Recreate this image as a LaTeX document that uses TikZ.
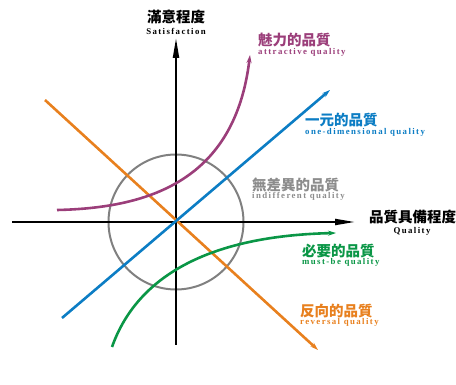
\documentclass[tikz,border=0pt]{standalone}
\usepackage{fontspec}
\setmainfont{Liberation Serif}
\newfontfamily\cjk{Noto Sans CJK TC}
\newfontfamily\en{Liberation Serif Bold}[LetterSpace=16]
\usetikzlibrary{arrows.meta}
\definecolor{cPurple}{RGB}{155,62,122}
\definecolor{cBlue}{RGB}{12,125,196}
\definecolor{cOrange}{RGB}{232,128,30}
\definecolor{cGreen}{RGB}{10,150,70}
\definecolor{cGray}{RGB}{128,128,128}
\definecolor{cGrayText}{RGB}{140,140,140}
\tikzset{
  axis/.style={line width=2pt,black,-{Triangle[length=20pt,width=6pt]}},
  curve/.style={line width=2.6pt,-{Stealth[length=8pt,width=5pt]}},
  zh/.style={font=\cjk\bfseries\fontsize{14.5}{15}\selectfont,inner sep=0pt,anchor=west},
  eng/.style={font=\en\fontsize{8.8}{9}\selectfont,inner sep=0pt,anchor=west},
}
\begin{document}
\begin{tikzpicture}[x=1pt,y=-1pt]
\useasboundingbox (0,0) rectangle (456,385);
% named points
\coordinate (O) at (176,222);
\coordinate (xs) at (12,222);
\coordinate (xe) at (355,222);
\coordinate (ys) at (176,345);
\coordinate (ye) at (176,38);
\coordinate (os) at (45,100);
\coordinate (oe) at (318,350);
\coordinate (bs) at (62,318);
\coordinate (be) at (330,90);
\coordinate (ps) at (57,210);
\coordinate (pe) at (250,55);
\coordinate (gs) at (112,347);
\coordinate (ge) at (336,233);
% circle
\draw[cGray,line width=2pt] (O) circle (67.5);
% axes
\draw[axis] (xs) -- (xe);
\draw[axis] (ys) -- (ye);
% lines
\draw[curve,cOrange] (os) -- (oe);
\draw[curve,cBlue] (bs) -- (be);
\draw[curve,cPurple] (ps) .. controls (150,208) and (235,180) .. (pe);
\draw[curve,cGreen] (gs) .. controls (135,282) and (200,236) .. (ge);
% labels
\node[zh,anchor=center] (ty) at (176,17) {滿意程度};
\node[eng,anchor=center] (tye) at (176,31) {Satisfaction};
\node[zh] (tx) at (369,217) {品質具備程度};
\node[eng,anchor=center] (txe) at (412,231) {Quality};
\node[zh,cPurple] (la) at (258,40) {魅力的品質};
\node[eng,cPurple] (lae) at (258,52) {attractive quality};
\node[zh,cBlue] (lb) at (305,120) {一元的品質};
\node[eng,cBlue] (lbe) at (305,132) {one-dimensional quality};
\node[zh,cGrayText] (lc) at (252,185) {無差異的品質};
\node[eng,cGrayText] (lce) at (252,196) {indifferent quality};
\node[zh,cGreen] (ld) at (302,251) {必要的品質};
\node[eng,cGreen] (lde) at (302,262) {must-be quality};
\node[zh,cOrange] (le) at (300,311) {反向的品質};
\node[eng,cOrange] (lee) at (300,322) {reversal quality};
\end{tikzpicture}
\end{document}
